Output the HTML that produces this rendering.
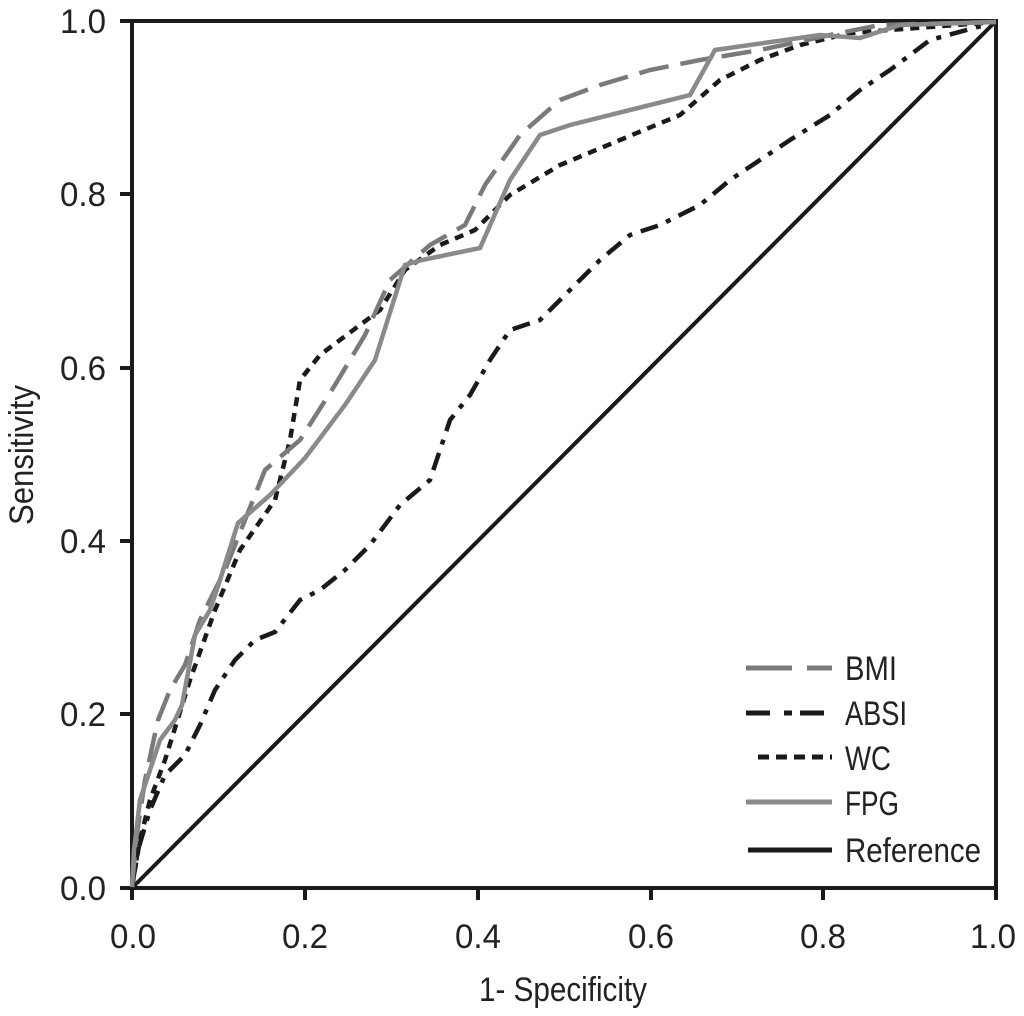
<!DOCTYPE html>
<html><head><meta charset="utf-8"><style>html,body{margin:0;padding:0;background:#fff;}</style></head>
<body>
<svg width="1024" height="1011" viewBox="0 0 1024 1011" xmlns="http://www.w3.org/2000/svg" font-family="Liberation Sans, sans-serif" fill="#222">
<g stroke="#1a1a1a" stroke-width="4" fill="none">
<rect x="132" y="21" width="864" height="867"/>
<path d="M120 21H132M120 194H132M120 368H132M120 541H132M120 714H132M120 888H132"/>
<path d="M132 888V900M305 888V900M478 888V900M651 888V900M823 888V900M996 888V900"/>
</g>
<g font-size="34" text-anchor="end">
<text x="106" y="33" textLength="46" lengthAdjust="spacingAndGlyphs">1.0</text>
<text x="106" y="206" textLength="46" lengthAdjust="spacingAndGlyphs">0.8</text>
<text x="106" y="380" textLength="46" lengthAdjust="spacingAndGlyphs">0.6</text>
<text x="106" y="553" textLength="46" lengthAdjust="spacingAndGlyphs">0.4</text>
<text x="106" y="726" textLength="46" lengthAdjust="spacingAndGlyphs">0.2</text>
<text x="106" y="900" textLength="46" lengthAdjust="spacingAndGlyphs">0.0</text>
</g>
<g font-size="34" text-anchor="middle">
<text x="133" y="948" textLength="46" lengthAdjust="spacingAndGlyphs">0.0</text>
<text x="305" y="948" textLength="46" lengthAdjust="spacingAndGlyphs">0.2</text>
<text x="478" y="948" textLength="46" lengthAdjust="spacingAndGlyphs">0.4</text>
<text x="651" y="948" textLength="46" lengthAdjust="spacingAndGlyphs">0.6</text>
<text x="823" y="948" textLength="46" lengthAdjust="spacingAndGlyphs">0.8</text>
<text x="993" y="948" textLength="46" lengthAdjust="spacingAndGlyphs">1.0</text>
<text x="563" y="1001" textLength="168" lengthAdjust="spacingAndGlyphs">1- Specificity</text>
</g>
<text transform="translate(33,455) rotate(-90)" font-size="34" text-anchor="middle" textLength="140" lengthAdjust="spacingAndGlyphs">Sensitivity</text>

<path d="M132 888L996 21" stroke="#1a1a1a" stroke-width="4" fill="none"/>
<polyline fill="none" stroke="#1a1a1a" stroke-width="4.5" stroke-dasharray="18,9,5,9" points="132,887 138,850 150,810 165,775 185,755 200,725 215,690 235,660 255,640 275,632 300,600 320,590 345,570 370,545 400,505 430,480 450,420 470,395 490,360 510,330 540,320 570,290 600,260 630,235 660,225 700,205 730,180 760,160 790,140 830,115 860,90 890,70 930,40 996,22"/>
<polyline fill="none" stroke="#1a1a1a" stroke-width="4.5" stroke-dasharray="9,7" points="132,887 140,840 150,800 165,760 190,680 215,610 240,550 275,500 290,440 300,380 320,355 380,310 405,270 440,245 475,230 510,195 560,165 620,140 680,115 720,80 760,60 800,45 850,33 996,22"/>
<polyline fill="none" stroke="#7a7a7a" stroke-width="4.5" stroke-dasharray="30,12" points="132,887 136,840 145,780 158,720 170,690 185,665 200,620 225,570 245,520 265,470 300,440 335,385 365,335 390,280 430,245 465,225 485,185 520,135 560,100 600,85 650,70 700,60 760,50 830,35 880,25 996,22"/>
<polyline fill="none" stroke="#8a8a8a" stroke-width="4.5" points="132,887 134,850 140,800 150,770 160,740 175,720 182,705 195,635 210,610 220,580 238,523 270,495 305,458 345,405 375,360 405,265 422,260 480,248 510,180 540,135 570,125 690,95 715,50 820,35 860,38 900,25 996,22"/>

<g stroke-width="5" fill="none">
<path d="M746 668H832" stroke="#7a7a7a" stroke-dasharray="46,15"/>
<path d="M746 713H832" stroke="#1a1a1a" stroke-dasharray="24,14,8,8"/>
<path d="M758 757H832" stroke="#1a1a1a" stroke-dasharray="11,7"/>
<path d="M746 802H832" stroke="#8a8a8a"/>
<path d="M748 850H832" stroke="#1a1a1a"/>
</g>
<g font-size="34">
<text x="845" y="680" textLength="52" lengthAdjust="spacingAndGlyphs">BMI</text>
<text x="845" y="725" textLength="62" lengthAdjust="spacingAndGlyphs">ABSI</text>
<text x="845" y="770" textLength="46" lengthAdjust="spacingAndGlyphs">WC</text>
<text x="845" y="815" textLength="54" lengthAdjust="spacingAndGlyphs">FPG</text>
<text x="845" y="862" textLength="136" lengthAdjust="spacingAndGlyphs">Reference</text>
</g>
</svg>
</body></html>
